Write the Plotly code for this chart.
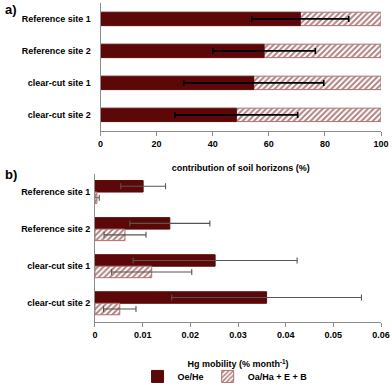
import plotly.graph_objects as go

MAROON = "#5C0808"
HATCH_LINE = "#B07070"
AXIS = "#8C8C8C"
FONT = "Liberation Sans"

sites = ["Reference site 1", "Reference site 2", "clear-cut site 1", "clear-cut site 2"]

# a) contribution of soil horizons (%)
contrib_oe = [71.2, 58.3, 54.6, 48.4]
contrib_oe_err = [17.3, 18.3, 25.0, 21.9]
contrib_oa = [100 - v for v in contrib_oe]

# b) Hg mobility (% month-1)
mob_oe = [0.0101, 0.0157, 0.0252, 0.0360]
mob_oe_err = [0.0047, 0.0084, 0.0172, 0.0199]
mob_oa = [0.0004, 0.0063, 0.0119, 0.0052]
mob_oa_err = [0.0005, 0.0044, 0.0084, 0.0034]

hatch = dict(shape="/", fgcolor=MAROON, bgcolor="white", size=4, solidity=0.5)

fig = go.Figure()

# panel a: hatched part first so the error bars of the dark part stay on top
fig.add_trace(go.Bar(
    y=sites, x=contrib_oa, base=contrib_oe, orientation="h",
    width=0.42, xaxis="x", yaxis="y", showlegend=False,
    marker=dict(color="white", pattern=hatch, line=dict(color=HATCH_LINE, width=1)),
))
fig.add_trace(go.Bar(
    y=sites, x=contrib_oe, orientation="h",
    width=0.42, xaxis="x", yaxis="y", showlegend=False,
    marker=dict(color=MAROON, line=dict(color=MAROON, width=1)),
    error_x=dict(type="data", array=contrib_oe_err, color="black", thickness=1.6, width=3),
))

# panel b: grouped bars
fig.add_trace(go.Bar(
    y=sites, x=mob_oe, orientation="h", name="Oe/He",
    width=0.31, offset=-0.31, xaxis="x2", yaxis="y2", legend="legend",
    marker=dict(color=MAROON, line=dict(color=MAROON, width=1)),
    error_x=dict(type="data", array=mob_oe_err, color="#555555", thickness=1.1, width=3),
))
fig.add_trace(go.Bar(
    y=sites, x=mob_oa, orientation="h", name="Oa/Ha + E + B",
    width=0.31, offset=0, xaxis="x2", yaxis="y2", legend="legend2",
    marker=dict(color="white", pattern=hatch, line=dict(color=HATCH_LINE, width=1)),
    error_x=dict(type="data", array=mob_oa_err, color="#555555", thickness=1.1, width=3),
))

tickfont = dict(family=FONT, size=9, color="black", weight="bold")
titlefont = dict(family=FONT, size=9, color="black", weight="bold")
legfont = dict(family=FONT, size=9, color="black", weight="bold")

fig.update_layout(
    width=392, height=391,
    margin=dict(l=0, r=10, t=0, b=0),
    barmode="overlay",
    plot_bgcolor="white",
    paper_bgcolor="white",
    font=dict(family=FONT, size=9, color="black"),
    xaxis=dict(
        domain=[0.2573, 0.9974], anchor="y", range=[0, 100], dtick=20,
        showgrid=False, zeroline=False, showline=True, linecolor=AXIS, linewidth=1,
        ticks="outside", ticklen=4, tickcolor=AXIS, tickfont=tickfont,
        title=dict(text="contribution of soil horizons (%)", font=titlefont, standoff=17),
    ),
    yaxis=dict(
        domain=[0.6547, 0.9923], anchor="x", autorange="reversed",
        showgrid=False, zeroline=False, showline=True, linecolor=AXIS, linewidth=1,
        ticks="outside", ticklen=7, tickcolor="rgba(0,0,0,0)", tickfont=tickfont,
    ),
    xaxis2=dict(
        domain=[0.2427, 0.9974], anchor="y2", range=[0, 0.06], dtick=0.01,
        showgrid=False, zeroline=False, showline=True, linecolor=AXIS, linewidth=1,
        ticks="outside", ticklen=4, tickcolor=AXIS, tickfont=tickfont,
        title=dict(text="Hg mobility (% month<sup>-1</sup>)", font=titlefont, standoff=22),
    ),
    yaxis2=dict(
        domain=[0.1509, 0.5422], anchor="x2", autorange="reversed",
        showgrid=False, zeroline=False, showline=True, linecolor=AXIS, linewidth=1,
        ticks="outside", ticklen=2, tickcolor="rgba(0,0,0,0)", tickfont=tickfont,
    ),
    legend=dict(
        orientation="h", x=0.355, xanchor="left", y=0.045, yanchor="top",
        font=legfont, itemwidth=30, bgcolor="rgba(0,0,0,0)",
    ),
    legend2=dict(
        orientation="h", x=0.54, xanchor="left", y=0.045, yanchor="top",
        font=legfont, itemwidth=30, bgcolor="rgba(0,0,0,0)",
    ),
    annotations=[
        dict(text="<b>a)</b>", x=0, y=1.0, xref="paper", yref="paper",
             xanchor="left", yanchor="top", showarrow=False,
             font=dict(family=FONT, size=13, color="black")),
        dict(text="<b>b)</b>", x=0, y=0.565, xref="paper", yref="paper",
             xanchor="left", yanchor="top", showarrow=False,
             font=dict(family=FONT, size=13, color="black")),
    ],
)

fig.write_html(
    "out.html",
    config={"displayModeBar": False},
    post_script="document.body.style.margin = '0';",
)
